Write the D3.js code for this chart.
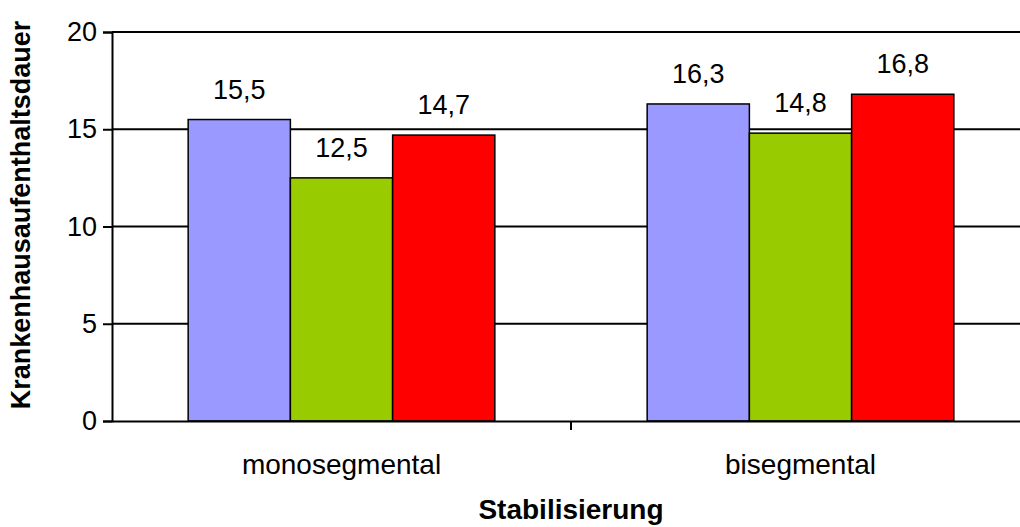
<!DOCTYPE html>
<html>
<head>
<meta charset="utf-8">
<script src="https://cdn.jsdelivr.net/npm/d3@7"></script>
<style>
  body { margin: 0; background: #fff; }
  text { font-family: Arial, "Liberation Sans", sans-serif; }
</style>
</head>
<body>
<div id="chart"></div>
<script>
var categories = ["monosegmental", "bisegmental"];
var series = ["A", "B", "C"];
var values = [
  [15.5, 12.5, 14.7],
  [16.3, 14.8, 16.8]
];
var yTicks = [0, 5, 10, 15, 20];
var colors = ["#9999FF", "#99CC00", "#FF0000"];

var margin = {top: 32, right: -10, bottom: 106, left: 112},
    width = 1020 - margin.left - margin.right,
    height = 527 - margin.top - margin.bottom;

var svg = d3.select("#chart")
    .append("svg")
      .attr("width", 1020)
      .attr("height", 527)
    .append("g")
      .attr("transform", "translate(" + margin.left + "," + margin.top + ")");

var x0 = d3.scaleBand()
    .domain(categories)
    .range([0, width])
    .padding(0);

var x1 = d3.scaleBand()
    .domain(series)
    .range([0, x0.bandwidth()])
    .paddingInner(0)
    .paddingOuter(0.745);

var y = d3.scaleLinear()
    .domain([0, 20])
    .range([height, 0]);

// gridlines
svg.append("g")
  .selectAll("line")
  .data(yTicks.slice(1))
  .enter()
  .append("line")
    .attr("x1", 0)
    .attr("x2", width)
    .attr("y1", function(d) { return y(d); })
    .attr("y2", function(d) { return y(d); })
    .attr("stroke", "#000")
    .attr("stroke-width", 2);

// bars
var groups = svg.append("g")
  .selectAll("g")
  .data(values)
  .enter()
  .append("g")
    .attr("transform", function(d, i) { return "translate(" + x0(categories[i]) + ",0)"; });

groups.selectAll("rect")
  .data(function(d) { return d; })
  .enter()
  .append("rect")
    .attr("x", function(d, j) { return x1(series[j]); })
    .attr("y", function(d) { return y(d); })
    .attr("width", x1.bandwidth())
    .attr("height", function(d) { return height - y(d); })
    .attr("fill", function(d, j) { return colors[j]; })
    .attr("stroke", "#000")
    .attr("stroke-width", 1.5);

groups.selectAll("text")
  .data(function(d) { return d; })
  .enter()
  .append("text")
    .attr("x", function(d, j) { return x1(series[j]) + x1.bandwidth() / 2; })
    .attr("y", function(d) { return y(d) - 21; })
    .attr("text-anchor", "middle")
    .style("font-size", "27px")
    .text(function(d) { return String(d).replace(".", ","); });

// y axis
var yAxis = svg.append("g")
    .call(d3.axisLeft(y).tickValues(yTicks).tickSize(9).tickPadding(6));
yAxis.select(".domain").attr("stroke-width", 2);
yAxis.selectAll(".tick line").attr("stroke-width", 2);
yAxis.selectAll("text").style("font-size", "27px").attr("fill", "#000");

// x axis
var xAxis = svg.append("g")
    .attr("transform", "translate(0," + height + ")")
    .call(d3.axisBottom(x0).tickSize(0).tickPadding(33));
xAxis.select(".domain").attr("stroke-width", 2);
xAxis.selectAll("text").style("font-size", "28px").attr("fill", "#000");

// tick between categories
svg.append("g")
  .selectAll("line")
  .data(categories.slice(1))
  .enter()
  .append("line")
    .attr("x1", function(d) { return x0(d); })
    .attr("x2", function(d) { return x0(d); })
    .attr("y1", height)
    .attr("y2", height + 9)
    .attr("stroke", "#000")
    .attr("stroke-width", 2);

svg.append("text")
    .attr("x", width / 2)
    .attr("y", height + 98)
    .attr("text-anchor", "middle")
    .style("font-size", "28px")
    .style("font-weight", "bold")
    .text("Stabilisierung");

svg.append("text")
    .attr("transform", "rotate(-90)")
    .attr("x", -183)
    .attr("y", -82)
    .attr("text-anchor", "middle")
    .style("font-size", "27px")
    .style("font-weight", "bold")
    .text("Krankenhausaufenthaltsdauer");
</script>
</body>
</html>
